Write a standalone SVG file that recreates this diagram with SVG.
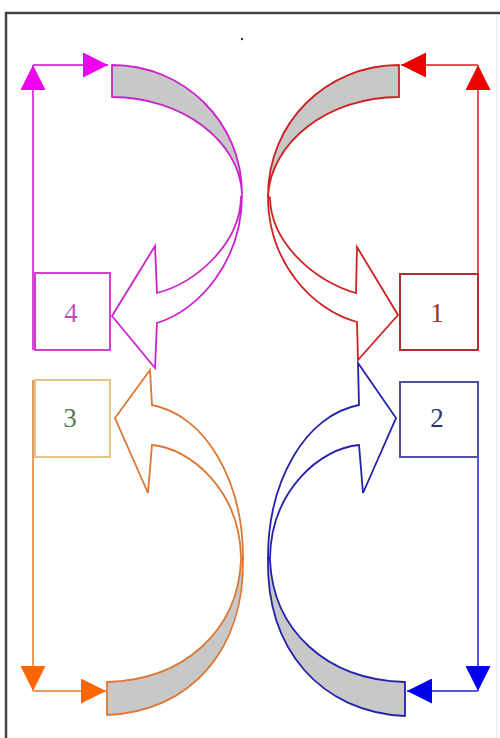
<svg xmlns="http://www.w3.org/2000/svg" width="500" height="738" viewBox="0 0 500 738">
<style>
.frame{stroke:#444;stroke-width:2.5;fill:none}
.box{fill:#fff;stroke-width:2}
.lbl{font-family:"Liberation Serif","Times New Roman",serif;font-size:27px;text-anchor:middle}
.conn{fill:none;stroke-width:2}
.gray{fill:#c8c8c8;stroke-width:1.8;stroke-linejoin:round}
.white{fill:#fff;stroke-width:1.8;stroke-linejoin:miter}
</style>
<defs>
<marker id="mM" viewBox="0 0 10 10" refX="10" refY="5" markerUnits="userSpaceOnUse" markerWidth="26" markerHeight="25" orient="auto"><path d="M0,0 L10,5 L0,10 Z" fill="#ee00ee"/></marker>
<marker id="mR" viewBox="0 0 10 10" refX="10" refY="5" markerUnits="userSpaceOnUse" markerWidth="26" markerHeight="25" orient="auto"><path d="M0,0 L10,5 L0,10 Z" fill="#ee0000"/></marker>
<marker id="mO" viewBox="0 0 10 10" refX="10" refY="5" markerUnits="userSpaceOnUse" markerWidth="26" markerHeight="25" orient="auto"><path d="M0,0 L10,5 L0,10 Z" fill="#ff6600"/></marker>
<marker id="mB" viewBox="0 0 10 10" refX="10" refY="5" markerUnits="userSpaceOnUse" markerWidth="26" markerHeight="25" orient="auto"><path d="M0,0 L10,5 L0,10 Z" fill="#0000ee"/></marker>
</defs>
<rect width="500" height="738" fill="#fff"/>
<path class="frame" d="M6,738 L6,13 L500,13"/>
<line x1="497" y1="14" x2="497" y2="738" stroke="#e4e4e4" stroke-width="1"/>
<circle cx="242" cy="39" r="1.2" fill="#333"/>

<g id="connectors">
<line class="conn" stroke="#dd44dd" x1="33" y1="350" x2="33" y2="65" marker-end="url(#mM)"/>
<line class="conn" stroke="#dd44dd" x1="33" y1="65" x2="108" y2="65" marker-end="url(#mM)"/>
<path class="gray" stroke="#cc22cc" d="M112,65 C184,65 242,122 242,194 C240,142 183,97 112,97 Z"/>
<path class="white" stroke="#cc22cc" d="M242,195 C242,260 200,310 157,323 L155,368 L112,316 L155,246 L157,293 C195,283 240,245 241,197 Z"/>

<line class="conn" stroke="#e05555" x1="478" y1="302" x2="478" y2="65" marker-end="url(#mR)"/>
<line class="conn" stroke="#e05555" x1="478" y1="65" x2="401" y2="65" marker-end="url(#mR)"/>
<path class="gray" stroke="#cc2222" d="M399,65 C327,65 268,122 268,196 C271,142 328,97 399,97 Z"/>
<path class="white" stroke="#cc2222" d="M268,196 C268,262 312,310 357,322 L358,360 L398,315 L357,247 L356,293 C318,283 271,245 270,198 Z"/>

<line class="conn" stroke="#e0a060" x1="33" y1="380" x2="33" y2="691" marker-end="url(#mO)"/>
<line class="conn" stroke="#e0a060" x1="33" y1="691" x2="106" y2="691" marker-end="url(#mO)"/>
<path class="gray" stroke="#dd7733" d="M243,558 C245,650 190,712 107,715 L107,682 C185,680 238,630 241,560 Z"/>
<path class="white" stroke="#dd7733" d="M243,558 C243,480 205,415 152,405 L150,370 L115,418 L148,493 L152,445 C190,448 240,490 241,558 Z"/>

<line class="conn" stroke="#5555dd" x1="478" y1="405" x2="478" y2="691" marker-end="url(#mB)"/>
<line class="conn" stroke="#5555dd" x1="478" y1="691" x2="407" y2="691" marker-end="url(#mB)"/>
<path class="gray" stroke="#2222aa" d="M268,558 C266,650 321,712 405,716 L405,682 C326,680 273,630 270,560 Z"/>
<path class="white" stroke="#2222aa" d="M268,558 C268,480 306,415 359,405 L358,363 L396,418 L363,493 L359,445 C321,448 271,490 270,558 Z"/>
</g>

<g id="node4"><rect class="box" x="35" y="273" width="75" height="77" stroke="#cc44cc"/><text class="lbl" x="71" y="322" fill="#c050c0">4</text></g>
<g id="node1"><rect class="box" x="400" y="274" width="78" height="76" stroke="#b03030"/><text class="lbl" x="437" y="322" fill="#993333">1</text></g>
<g id="node3"><rect class="box" x="35" y="380" width="75" height="77" stroke="#e6c48a"/><text class="lbl" x="70" y="427" fill="#557755">3</text></g>
<g id="node2"><rect class="box" x="400" y="382" width="78" height="75" stroke="#5050a0"/><text class="lbl" x="437" y="427" fill="#333366">2</text></g>
</svg>
